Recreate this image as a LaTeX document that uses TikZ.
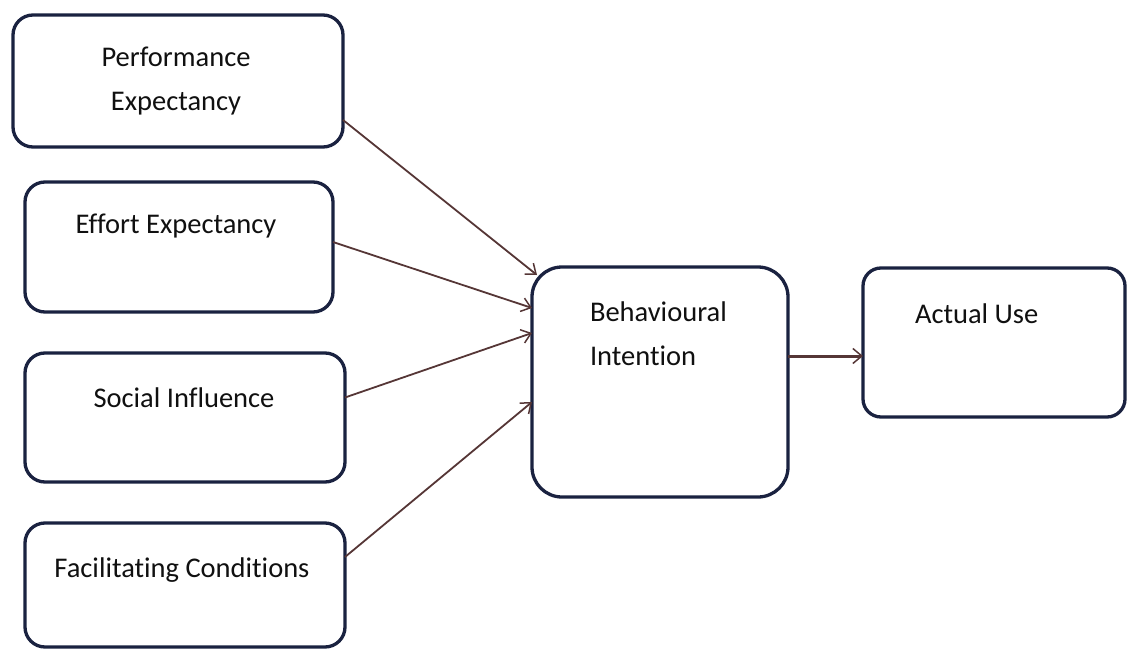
\documentclass[tikz,border=0pt]{standalone}
\usepackage{fontspec}
\setmainfont{Carlito}[Ligatures=NoCommon]
\usetikzlibrary{arrows.meta}
\definecolor{boxc}{HTML}{1A2240}
\definecolor{arrc}{HTML}{553636}
\definecolor{txtc}{HTML}{101010}
\begin{document}
\begin{tikzpicture}[x=1pt,y=-1pt,
  box/.style={draw=boxc, line width=3.3pt, rounded corners=#1, inner sep=0pt, outer sep=0pt, fill=white},
  lbl/.style={inner sep=0pt, outer sep=0pt, text=txtc, font=\fontsize{28.5}{44}\selectfont},
  arr/.style={draw=arrc, line width=1.8pt, -{Straight Barb[length=9pt,width=14pt,line width=1.5pt]}},
  arrthick/.style={draw=arrc, line width=3pt, -{Straight Barb[length=9pt,width=15pt,line width=1.5pt]}}]
\useasboundingbox[fill=white] (0,0) rectangle (1127,653);
% boxes
\node[box=20pt, minimum width=330pt, minimum height=132pt] (pe) at (178,81) {};
\node[box=20pt, minimum width=308pt, minimum height=130pt] (ee) at (179,247) {};
\node[box=20pt, minimum width=320pt, minimum height=129pt] (si) at (185,417.5) {};
\node[box=20pt, minimum width=320pt, minimum height=124pt] (fc) at (185,585) {};
\node[box=30pt, minimum width=256pt, minimum height=230pt] (bi) at (660,382) {};
\node[box=18pt, minimum width=262pt, minimum height=149pt] (au) at (994,342.5) {};
% labels
\node[lbl, align=center, anchor=north] (pet) at (176,47) {Performance\\Expectancy};
\node[lbl, anchor=base] (eet) at (176,233) {Effort Expectancy};
\node[lbl, anchor=base] (sit) at (184,407) {Social Influence};
\node[lbl, anchor=base] (fct) at (182,577) {Facilitating Conditions};
\node[lbl, align=left, anchor=north west] (bit) at (590,302) {Behavioural\\Intention};
\node[lbl, anchor=base west] (aut) at (915,323) {Actual Use};
% connectors
\draw[arr] ([yshift=-39pt]pe.east) -- ([xshift=5pt,yshift=-8pt]bi.north west);
\draw[arr] ([yshift=5pt]ee.east) -- ([yshift=74pt]bi.west);
\draw[arr] ([yshift=20pt]si.east) -- ([yshift=49pt]bi.west);
\draw[arr] ([yshift=28pt]fc.east) -- ([yshift=-20pt]bi.west);
\draw[arrthick] ([yshift=26pt]bi.east) -- ([yshift=26pt]bi.east -| au.west);
\end{tikzpicture}
\end{document}
